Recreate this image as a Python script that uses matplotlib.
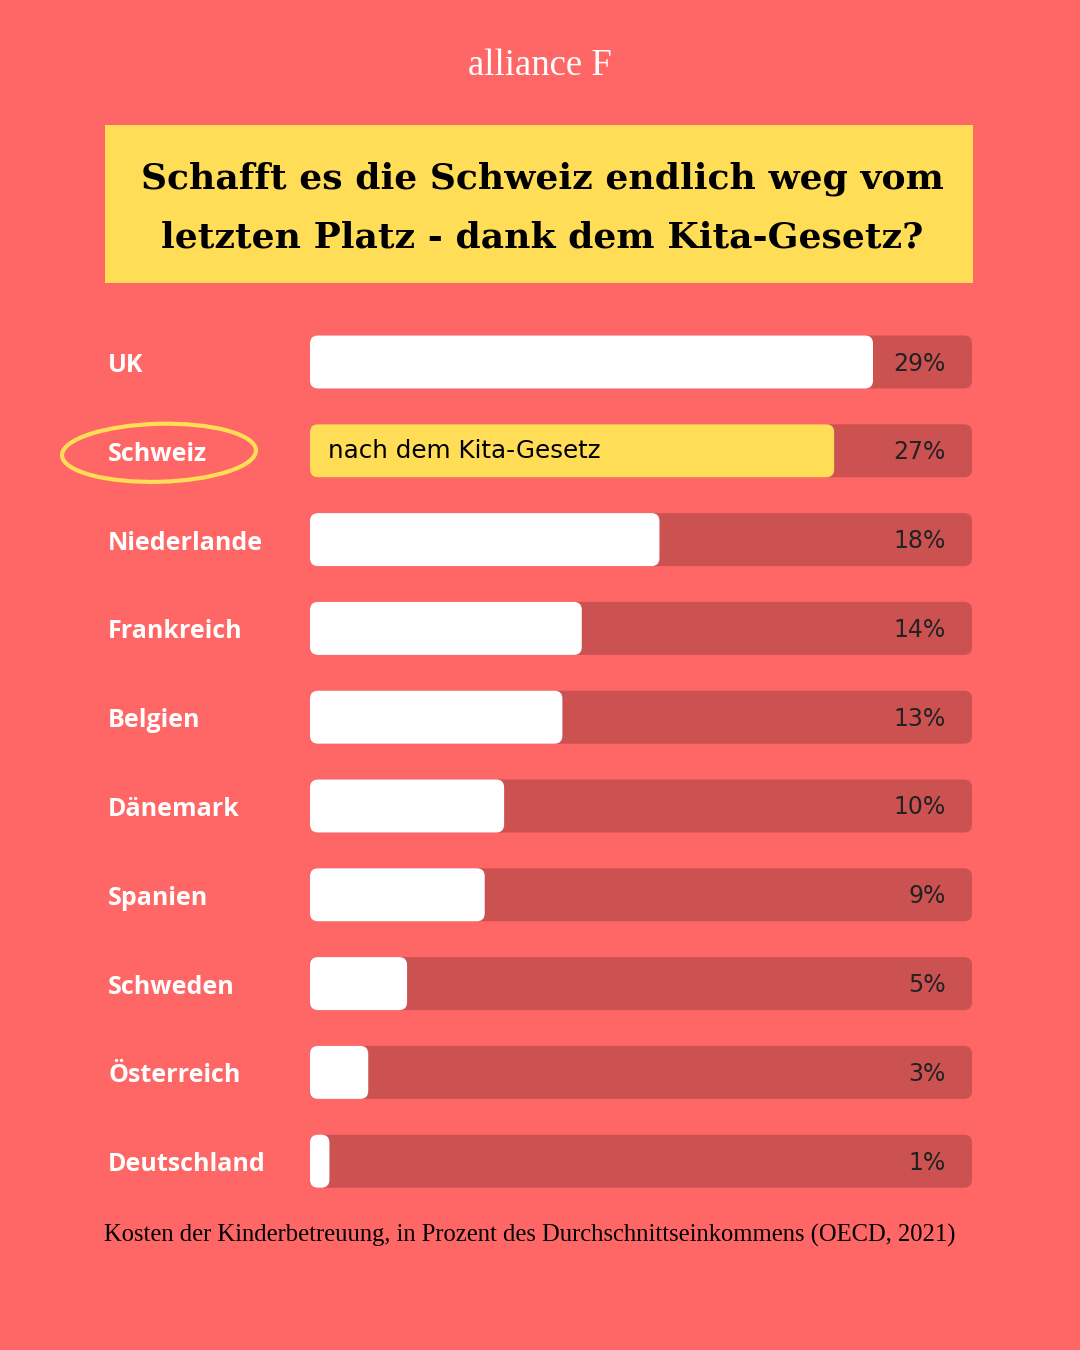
import matplotlib
matplotlib.use("Agg")
import matplotlib.pyplot as plt
from matplotlib.patches import FancyBboxPatch, Rectangle, Ellipse

# ---- data ----
countries = ["UK", "Schweiz", "Niederlande", "Frankreich", "Belgien",
             "Dänemark", "Spanien", "Schweden", "Österreich", "Deutschland"]
values = [29, 27, 18, 14, 13, 10, 9, 5, 3, 1]
value_labels = ["29%", "27%", "18%", "14%", "13%", "10%", "9%", "5%", "3%", "1%"]
highlight = "Schweiz"
highlight_note = "nach dem Kita-Gesetz"
brand = "alliance F"
title_lines = ["Schafft es die Schweiz endlich weg vom",
               "letzten Platz - dank dem Kita-Gesetz?"]
footnote = "Kosten der Kinderbetreuung, in Prozent des Durchschnittseinkommens (OECD, 2021)"
track_max = 34.1

BG = "#FF6666"
TRACK = "#CC5252"
YELLOW = "#FFDD57"
WHITE = "#FFFFFF"
DARK = "#222222"

W, H = 1080, 1350
fig = plt.figure(figsize=(W / 100, H / 100), dpi=100)
fig.patch.set_facecolor(BG)

# overlay axes in pixel coords for decoration
ov = fig.add_axes([0, 0, 1, 1])
ov.set_xlim(0, W)
ov.set_ylim(H, 0)
ov.axis("off")
ov.patch.set_alpha(0)

ov.text(540, 66, brand, ha="center", va="center", color=WHITE,
        fontsize=26.5, family="Liberation Serif")
ov.add_patch(Rectangle((105, 125), 868, 158, facecolor=YELLOW, edgecolor="none"))
ov.text(542, 179, title_lines[0], ha="center", va="center", color="black",
        fontsize=26, family="DejaVu Serif", fontweight="bold")
ov.text(542, 238, title_lines[1], ha="center", va="center", color="black",
        fontsize=26, family="DejaVu Serif", fontweight="bold")
ov.text(530, 1235, footnote, ha="center", va="center", color="black",
        fontsize=17.7, family="Liberation Serif")

# bar axes
n = len(countries)
row_px = 88.8
y0 = 362
top_px = y0 - row_px / 2
bot_px = y0 + (n - 1) * row_px + row_px / 2
x_left, x_right = 310, 972
ax = fig.add_axes([x_left / W, 1 - bot_px / H, (x_right - x_left) / W, (bot_px - top_px) / H])
ax.set_xlim(0, track_max)
ax.set_ylim(n - 0.5, -0.5)
ax.axis("off")
ax.patch.set_alpha(0)

px_per_x = (x_right - x_left) / track_max
px_per_y = row_px
aspect = px_per_x / px_per_y  # y-units per x-unit
bar_h = 53 / row_px
r = 8 / px_per_x
lab_dy = 3.5 / row_px
pct_dy = 1.5 / row_px

for i, (c, v, lab) in enumerate(zip(countries, values, value_labels)):
    track = FancyBboxPatch((0, i - bar_h / 2), track_max, bar_h,
                           boxstyle=f"round,pad=0,rounding_size={r}",
                           mutation_aspect=aspect, facecolor=TRACK, edgecolor="none")
    ax.add_patch(track)
    fc = YELLOW if c == highlight else WHITE
    bar = FancyBboxPatch((0, i - bar_h / 2), v, bar_h,
                         boxstyle=f"round,pad=0,rounding_size={min(r, v / 2)}",
                         mutation_aspect=aspect, facecolor=fc, edgecolor="none")
    ax.add_patch(bar)
    ax.text(32.75, i + pct_dy, lab, ha="right", va="center", color=DARK,
            fontsize=17, family="DejaVu Sans")
    ax.text(-(x_left - 108) / px_per_x, i + lab_dy, c, ha="left", va="center", color=WHITE,
            fontsize=18, family="Open Sans", fontweight="bold", clip_on=False)
    if c == highlight:
        ax.text(18 / px_per_x, i, highlight_note, ha="left", va="center", color="black",
                fontsize=17.7, family="DejaVu Sans", clip_on=False)
        hy = y0 + i * row_px + 2
        ov.add_patch(Ellipse((159, hy), 194, 58, angle=-1.5, facecolor="none",
                             edgecolor=YELLOW, linewidth=3))

fig.savefig("out.png", dpi=100, facecolor=BG)
